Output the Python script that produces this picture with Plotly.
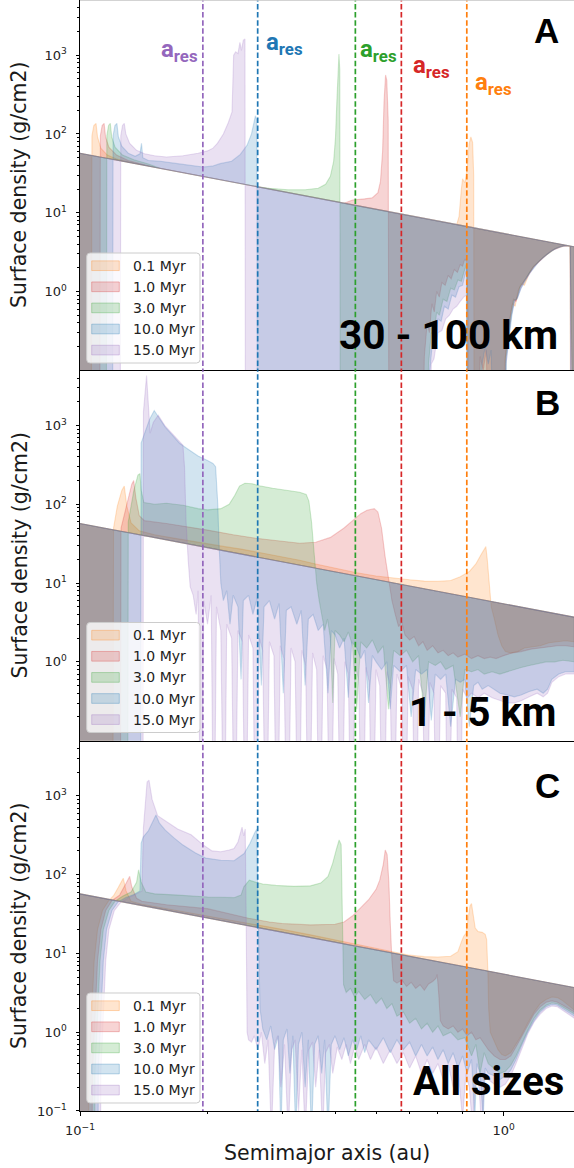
import plotly.graph_objects as go

# ---------------------------------------------------------------- data
ZERO = 1e-3  # empty bin (below the log axis)

SIGMA0_A = [0.1, 1.47]        # initial power-law profile, end points
SIGMA0_S = [57.0, 3.69]

TIMES = ["0.1 Myr", "1.0 Myr", "3.0 Myr", "10.0 Myr", "15.0 Myr"]
A_RES = [0.8187, 0.5736, 0.4467, 0.2627, 0.195]
PANEL_LETTERS = ["A", "B", "C"]
PANEL_SIZES = ["30 - 100 km", "1 - 5 km", "All sizes"]

X_TICKS = [0.1, 1.0]
X_TICK_TEXT = ["10<sup>\u22121</sup>", "10<sup>0</sup>"]
Y_TICKS = [0.1, 1, 10, 100, 1000]
Y_TICK_TEXT = ["10<sup>\u22121</sup>", "10<sup>0</sup>", "10<sup>1</sup>", "10<sup>2</sup>", "10<sup>3</sup>"]

Z = ZERO
# ---- panel A : 30 - 100 km
A_ORANGE = [(0.100, Z), (0.1063, Z), (0.1067, 95), (0.1078, 128), (0.1091, 136), (0.1100, 92), (0.1120, 66),
            (0.1160, 54), (0.1220, 48), (0.1300, 44.2), (0.140, 40.6), (0.775, 7.08), (0.785, 9.0), (0.795, 20),
            (0.800, 27), (0.810, 24), (0.820, 35), (0.829, 75), (0.837, 92), (0.845, 78), (0.850, 30), (0.852, Z),
            (0.990, Z), (1.005, 0.12), (1.02, 0.25), (1.035, 0.45), (1.05, 0.7), (1.065, 0.65), (1.08, 1.0),
            (1.10, 1.25), (1.12, 1.2), (1.15, 1.7), (1.18, 2.1), (1.21, 2.4), (1.24, 2.7), (1.27, 3.0), (1.30, 3.35),
            (1.33, 3.55), (1.36, 3.75), (1.40, 3.85), (1.435, 3.78), (1.44, Z), (1.47, Z)]
A_RED = [(0.100, Z), (0.1113, Z), (0.1117, 95), (0.1128, 128), (0.1140, 136), (0.1149, 92), (0.1170, 68),
         (0.1220, 54), (0.1300, 46), (0.1400, 41.5), (0.150, 37.8), (0.420, 13.2), (0.440, 14.5), (0.470, 15.0),
         (0.490, 15.5), (0.505, 18), (0.512, 25), (0.518, 60), (0.522, 250), (0.5264, 560), (0.530, 480),
         (0.534, 150), (0.5365, Z), (0.640, Z), (0.650, 0.15), (0.660, 0.4), (0.668, 0.3), (0.677, 0.7),
         (0.686, 0.55), (0.695, 1.0), (0.705, 0.85), (0.715, 1.3), (0.728, 1.2), (0.74, 1.6), (0.752, 1.45),
         (0.765, 1.9), (0.778, 1.75), (0.79, 2.2), (0.80, 2.1), (0.81, 2.6), (0.818, 2.4), (0.824, 0.5),
         (0.826, Z), (0.870, Z), (0.88, 0.15), (0.895, 0.1), (0.91, 0.18), (0.93, Z), (1.00, Z), (1.01, 0.15),
         (1.025, 0.3), (1.04, 0.55), (1.055, 0.8), (1.07, 0.75), (1.09, 1.1), (1.11, 1.3), (1.14, 1.6),
         (1.17, 2.0), (1.20, 2.3), (1.23, 2.6), (1.26, 2.9), (1.29, 3.2), (1.32, 3.45), (1.35, 3.6),
         (1.39, 3.8), (1.435, 3.75), (1.44, Z), (1.47, Z)]
A_GREEN = [(0.100, Z), (0.1153, Z), (0.1157, 95), (0.1168, 128), (0.1179, 136), (0.1188, 92), (0.1210, 68),
           (0.1260, 54), (0.1340, 47), (0.1450, 41.5), (0.155, 36.5), (0.260, 21.5), (0.280, 20.5),
           (0.310, 19.6), (0.340, 19.6), (0.365, 20.5), (0.380, 23), (0.390, 29), (0.397, 45), (0.401, 90),
           (0.404, 260), (0.4065, 700), (0.4086, 1030), (0.4105, 650), (0.4118, Z), (0.655, Z), (0.665, 0.12),
           (0.675, 0.3), (0.685, 0.28), (0.695, 0.55), (0.705, 0.5), (0.72, 0.8), (0.735, 0.75), (0.75, 1.1),
           (0.765, 1.05), (0.78, 1.4), (0.795, 1.35), (0.807, 1.8), (0.817, 2.2), (0.823, Z), (1.00, Z),
           (1.012, 0.14), (1.027, 0.28), (1.042, 0.5), (1.058, 0.78), (1.075, 0.8), (1.095, 1.15), (1.115, 1.35),
           (1.145, 1.65), (1.175, 2.05), (1.205, 2.35), (1.235, 2.65), (1.265, 2.95), (1.295, 3.25),
           (1.325, 3.5), (1.355, 3.65), (1.395, 3.82), (1.436, 3.76), (1.441, Z), (1.47, Z)]
A_BLUE = [(0.100, Z), (0.1193, Z), (0.1197, 95), (0.1209, 128), (0.1222, 136), (0.1232, 92), (0.1255, 70),
          (0.1300, 57), (0.1350, 52), (0.1385, 56), (0.1397, 76), (0.1407, 50), (0.1450, 46), (0.1546, 45),
          (0.170, 42), (0.185, 39.5), (0.195, 38), (0.205, 39), (0.214, 42), (0.228, 45), (0.239, 55),
          (0.248, 72), (0.254, 100), (0.2575, 140), (0.2594, 170), (0.2615, 150), (0.2625, Z), (0.660, Z),
          (0.670, 0.1), (0.68, 0.25), (0.69, 0.22), (0.70, 0.45), (0.712, 0.42), (0.725, 0.65), (0.74, 0.6),
          (0.755, 0.9), (0.77, 0.85), (0.785, 1.15), (0.80, 1.2), (0.81, 1.6), (0.82, 1.9), (0.8235, Z),
          (0.88, Z), (0.89, 0.12), (0.905, 0.2), (0.92, 0.12), (0.935, 0.18), (0.95, Z), (1.005, Z),
          (1.015, 0.13), (1.03, 0.27), (1.045, 0.48), (1.06, 0.75), (1.08, 0.85), (1.10, 1.1), (1.12, 1.3),
          (1.15, 1.7), (1.18, 2.0), (1.21, 2.4), (1.24, 2.7), (1.27, 3.0), (1.30, 3.3), (1.33, 3.55),
          (1.37, 3.75), (1.41, 3.85), (1.437, 3.76), (1.442, Z), (1.47, Z)]
A_PURPLE = [(0.100, Z), (0.1244, Z), (0.1248, 95), (0.1260, 128), (0.1272, 136), (0.1283, 100), (0.1310, 76),
            (0.1360, 62), (0.1420, 56), (0.150, 53), (0.160, 51), (0.175, 53), (0.190, 57), (0.200, 61),
            (0.206, 66), (0.211, 76), (0.218, 100), (0.224, 140), (0.2285, 190), (0.2295, 400), (0.2305, 1000),
            (0.233, 1100), (0.236, 1050), (0.2385, 1450), (0.2405, 1150), (0.243, 1550), (0.2452, 1600),
            (0.2458, Z), (0.665, Z), (0.675, 0.12), (0.685, 0.14), (0.70, 0.3), (0.715, 0.32), (0.73, 0.45),
            (0.745, 0.5), (0.76, 0.6), (0.775, 0.65), (0.79, 0.75), (0.805, 0.85), (0.817, 0.9), (0.822, Z),
            (1.00, Z), (1.013, 0.12), (1.028, 0.26), (1.043, 0.5), (1.06, 0.72), (1.078, 0.82), (1.098, 1.1),
            (1.12, 1.35), (1.15, 1.65), (1.18, 2.05), (1.21, 2.35), (1.24, 2.7), (1.27, 3.0), (1.30, 3.3),
            (1.33, 3.5), (1.37, 3.72), (1.41, 3.82), (1.437, 3.75), (1.442, Z), (1.47, Z)]

# ---- panel B : 1 - 5 km
B_ORANGE = [(0.100, Z), (0.1195, Z), (0.1200, 50), (0.1225, 95), (0.1255, 150), (0.1272, 170), (0.1290, 95),
            (0.1320, 58), (0.1380, 46), (0.150, 41), (0.165, 37.5), (0.180, 34.5), (0.200, 31.5), (0.220, 29),
            (0.240, 27), (0.260, 25), (0.280, 23), (0.300, 21.5), (0.330, 19.5), (0.360, 17.5), (0.400, 15.5),
            (0.450, 13.5), (0.500, 12.3), (0.550, 11.5), (0.600, 11.0), (0.650, 10.6), (0.700, 10.5),
            (0.750, 10.8), (0.790, 12), (0.830, 14), (0.860, 17.5), (0.885, 23), (0.900, 27), (0.908, 29),
            (0.915, 20), (0.925, 9), (0.935, 5), (0.951, 3.5), (0.970, 2.2), (0.99, 1.6), (1.01, 1.35),
            (1.04, 1.3), (1.08, 1.35), (1.12, 1.5), (1.17, 1.55), (1.22, 1.6), (1.28, 1.75), (1.34, 1.8),
            (1.40, 1.85), (1.47, 1.8)]
B_RED = [(0.100, Z), (0.1245, Z), (0.1250, 50), (0.1290, 100), (0.1325, 180), (0.1339, 200), (0.1355, 120),
         (0.1380, 72), (0.1420, 62), (0.160, 57), (0.180, 52), (0.200, 47), (0.230, 41), (0.260, 37),
         (0.300, 34), (0.330, 32), (0.360, 33), (0.390, 38), (0.420, 50), (0.440, 62), (0.460, 76),
         (0.476, 84), (0.495, 88), (0.505, 80), (0.515, 50), (0.525, 22), (0.535, 11), (0.545, 6),
         (0.555, 4.0), (0.565, 2.8), (0.575, 3.2), (0.585, 2.2), (0.60, 1.9), (0.615, 2.1), (0.63, 1.6),
         (0.645, 1.8), (0.66, 1.4), (0.68, 1.6), (0.70, 1.3), (0.72, 1.4), (0.74, 1.2), (0.76, 1.3),
         (0.78, 1.15), (0.81, 1.25), (0.84, 1.1), (0.87, 1.2), (0.90, 1.1), (0.93, 1.15), (0.96, 1.1),
         (1.00, 1.2), (1.05, 1.3), (1.10, 1.35), (1.16, 1.45), (1.22, 1.5), (1.28, 1.55), (1.34, 1.6),
         (1.40, 1.6), (1.47, 1.55)]
B_GREEN = [(0.100, Z), (0.1295, Z), (0.1300, 60), (0.1340, 150), (0.1370, 235), (0.1385, 245), (0.1395, 150),
           (0.1415, 105), (0.150, 100), (0.160, 103), (0.175, 97), (0.190, 88), (0.200, 85), (0.215, 88),
           (0.225, 100), (0.232, 130), (0.238, 170), (0.245, 185), (0.255, 182), (0.265, 172), (0.285, 160),
           (0.310, 150), (0.330, 142), (0.342, 133), (0.347, 110), (0.352, 60), (0.357, 25), (0.362, 10),
           (0.367, 6), (0.372, 4), (0.378, 2.5), (0.384, 3.5), (0.39, 2), (0.395, 0.3), (0.40, 2.5),
           (0.41, 2.2), (0.42, 1.8), (0.43, 2.4), (0.44, 1.6), (0.45, 0.25), (0.46, 1.8), (0.475, 1.5),
           (0.49, 1.9), (0.505, 1.3), (0.52, 1.6), (0.535, 0.25), (0.55, 1.4), (0.57, 1.2), (0.59, 1.4),
           (0.61, 1.0), (0.63, 1.2), (0.65, 0.2), (0.665, 1.0), (0.69, 0.9), (0.71, 1.0), (0.73, 0.8),
           (0.76, 0.9), (0.79, 0.2), (0.81, 0.8), (0.84, 0.75), (0.87, 0.8), (0.90, 0.7), (0.94, 0.75),
           (0.98, 0.7), (1.02, 0.75), (1.06, 0.8), (1.10, 0.85), (1.15, 0.9), (1.20, 0.95), (1.26, 1.0),
           (1.32, 1.0), (1.38, 1.05), (1.47, 1.0)]
B_BLUE = [(0.100, Z), (0.1390, Z), (0.1394, 600), (0.142, 800), (0.146, 1200), (0.1497, 1550), (0.153, 1300),
          (0.159, 950), (0.165, 760), (0.172, 590), (0.180, 500), (0.190, 410), (0.200, 360), (0.206, 330),
          (0.209, 300), (0.2115, 100), (0.213, 30), (0.215, 10), (0.218, 6), (0.222, 8), (0.226, 3), (0.230, 7),
          (0.236, 5), (0.240, 0.6), (0.243, 6), (0.25, 7), (0.256, 4), (0.262, 6.5), (0.268, 0.5), (0.272, 5),
          (0.28, 6), (0.288, 3.5), (0.295, 5.5), (0.302, 0.4), (0.307, 4.5), (0.315, 5), (0.325, 3),
          (0.333, 4.5), (0.34, 0.5), (0.346, 3.5), (0.355, 4), (0.365, 2.5), (0.375, 3), (0.385, 0.4),
          (0.392, 2.5), (0.40, 2.2), (0.41, 1.5), (0.42, 2.0), (0.43, 0.35), (0.438, 1.8), (0.45, 1.5),
          (0.46, 1.1), (0.47, 1.4), (0.48, 0.3), (0.49, 1.2), (0.50, 1.0), (0.515, 0.8), (0.53, 1.0),
          (0.54, 0.25), (0.55, 0.9), (0.57, 0.75), (0.59, 0.9), (0.605, 0.2), (0.62, 0.8), (0.64, 0.7),
          (0.66, 0.8), (0.675, 0.18), (0.69, 0.7), (0.71, 0.6), (0.73, 0.7), (0.75, 0.15), (0.77, 0.6),
          (0.79, 0.55), (0.81, 0.6), (0.83, 0.15), (0.85, 0.5), (0.87, 0.55), (0.89, 0.45), (0.92, 0.5),
          (0.95, 0.45), (0.98, 0.4), (1.02, 0.38), (1.06, 0.36), (1.10, 0.38), (1.15, 0.42), (1.20, 0.45),
          (1.24, 0.4), (1.27, 0.45), (1.30, 0.6), (1.35, 0.7), (1.40, 0.75), (1.47, 0.75)]
B_PURPLE = [(0.100, Z), (0.1408, Z), (0.1412, 1500), (0.1428, 3000), (0.1436, 4300), (0.1445, 2500),
            (0.1464, 800), (0.149, 1100), (0.1530, 1350), (0.159, 980), (0.165, 780), (0.172, 610),
            (0.175, 560), (0.1765, 300), (0.178, 60), (0.180, 20), (0.182, 9), (0.185, 7), (0.188, 4),
            (0.19, 8), (0.193, Z), (0.196, 6), (0.20, 3), (0.204, 7), (0.207, Z), (0.21, 5), (0.215, 2.5),
            (0.219, Z), (0.222, 3), (0.228, 2), (0.232, Z), (0.236, 2.5), (0.242, 1.8), (0.246, Z), (0.25, 2.2),
            (0.256, 1.5), (0.26, Z), (0.265, 2), (0.27, 1.4), (0.275, Z), (0.28, 1.8), (0.287, 1.2), (0.292, Z),
            (0.297, 1.6), (0.303, 1.1), (0.309, Z), (0.315, 1.5), (0.322, 1.0), (0.328, Z), (0.334, 1.4),
            (0.341, 0.9), (0.347, Z), (0.354, 1.3), (0.362, 0.8), (0.368, Z), (0.375, 1.2), (0.383, 0.8),
            (0.39, Z), (0.398, 1.1), (0.406, 0.7), (0.414, Z), (0.422, 1.0), (0.43, 0.7), (0.438, Z),
            (0.446, 0.9), (0.455, 0.6), (0.464, Z), (0.473, 0.85), (0.482, 0.55), (0.49, Z), (0.50, 0.8),
            (0.51, 0.5), (0.52, Z), (0.53, 0.75), (0.54, 0.5), (0.55, Z), (0.56, 0.7), (0.575, 0.45),
            (0.585, Z), (0.595, 0.65), (0.61, 0.45), (0.62, Z), (0.63, 0.6), (0.645, 0.4), (0.655, Z),
            (0.67, 0.55), (0.685, 0.4), (0.695, Z), (0.71, 0.5), (0.73, 0.4), (0.74, Z), (0.755, 0.45),
            (0.775, 0.35), (0.785, Z), (0.80, 0.45), (0.82, 0.35), (0.84, 0.4), (0.87, 0.35), (0.90, 0.4),
            (0.94, 0.35), (0.98, 0.32), (1.02, 0.3), (1.06, 0.3), (1.10, 0.32), (1.15, 0.36), (1.20, 0.4),
            (1.24, 0.36), (1.27, 0.4), (1.30, 0.55), (1.35, 0.65), (1.40, 0.7), (1.47, 0.7)]

# ---- panel C : all sizes
C_ORANGE = [(0.100, Z), (0.1045, Z), (0.1050, 0.3), (0.1065, 2.0), (0.1080, 8), (0.1100, 20), (0.1130, 35),
            (0.1170, 47), (0.1200, 54), (0.1230, 68), (0.1265, 90), (0.1285, 62), (0.1320, 46), (0.140, 42),
            (0.160, 37), (0.200, 29.8), (0.250, 24.2), (0.300, 20.2), (0.350, 17.2), (0.400, 14.8),
            (0.450, 12.9), (0.500, 11.5), (0.550, 10.3), (0.600, 9.5), (0.650, 9.1), (0.700, 9.0), (0.750, 9.2),
            (0.780, 10.5), (0.795, 14), (0.805, 16.5), (0.815, 18), (0.825, 28), (0.833, 40), (0.840, 43),
            (0.848, 32), (0.857, 21), (0.870, 19), (0.890, 18.5), (0.905, 17.5), (0.912, 15), (0.918, 6),
            (0.922, 2.0), (0.93, 1.0), (0.95, 0.75), (0.97, 0.6), (0.99, 0.52), (1.01, 0.5), (1.04, 0.55),
            (1.07, 0.7), (1.10, 0.9), (1.14, 1.3), (1.18, 1.8), (1.22, 2.3), (1.26, 2.6), (1.30, 2.8),
            (1.34, 2.75), (1.38, 2.5), (1.42, 2.2), (1.47, 1.9)]
C_RED = [(0.100, Z), (0.1065, Z), (0.1070, 0.3), (0.1085, 2.0), (0.1100, 8), (0.1120, 20), (0.1150, 35),
         (0.1190, 47), (0.1240, 55), (0.1280, 75), (0.1310, 95), (0.1325, 70), (0.1360, 50), (0.140, 46),
         (0.160, 41.5), (0.200, 37), (0.230, 31), (0.250, 28), (0.280, 25), (0.300, 24), (0.350, 23),
         (0.400, 23.5), (0.420, 25), (0.440, 30), (0.460, 38), (0.480, 48), (0.500, 65), (0.510, 85),
         (0.520, 135), (0.5255, 205), (0.531, 180), (0.536, 80), (0.540, 25), (0.545, 8), (0.550, 4.5),
         (0.560, 4.2), (0.575, 4.6), (0.590, 3.8), (0.605, 4.3), (0.62, 3.6), (0.635, 4.0), (0.65, 3.4),
         (0.665, 4.1), (0.68, 4.4), (0.692, 4.8), (0.697, 5.4), (0.703, 3.0), (0.709, 1.4), (0.72, 1.2),
         (0.74, 1.1), (0.76, 1.2), (0.78, 1.0), (0.80, 1.1), (0.82, 0.9), (0.84, 1.0), (0.86, 0.8),
         (0.88, 0.85), (0.90, 0.7), (0.92, 0.6), (0.95, 0.5), (0.98, 0.45), (1.01, 0.45), (1.04, 0.5),
         (1.07, 0.65), (1.10, 0.85), (1.14, 1.2), (1.18, 1.7), (1.22, 2.1), (1.26, 2.4), (1.30, 2.5),
         (1.34, 2.4), (1.38, 2.2), (1.42, 2.0), (1.47, 1.8)]
C_GREEN = [(0.100, Z), (0.1080, Z), (0.1085, 0.3), (0.1100, 2.0), (0.1115, 8), (0.1135, 20), (0.1170, 35),
           (0.1210, 46), (0.1260, 53), (0.1320, 60), (0.1360, 80), (0.1375, 115), (0.1395, 80), (0.1430, 60),
           (0.150, 57), (0.170, 55), (0.200, 52), (0.231, 51), (0.240, 55), (0.2437, 70), (0.251, 85),
           (0.260, 80), (0.270, 76), (0.290, 73), (0.320, 71), (0.350, 72), (0.370, 78), (0.385, 95),
           (0.395, 140), (0.403, 210), (0.409, 275), (0.4135, 240), (0.4150, 60), (0.4165, 12), (0.419, 4),
           (0.425, 3.2), (0.435, 3.6), (0.445, 2.8), (0.455, 3.3), (0.47, 2.6), (0.485, 3.0), (0.50, 2.3),
           (0.515, 2.7), (0.53, 2.0), (0.545, 2.3), (0.56, 1.6), (0.58, 1.8), (0.60, 1.3), (0.62, 1.5),
           (0.64, 1.1), (0.66, 1.3), (0.68, 1.0), (0.70, 1.2), (0.72, 0.9), (0.75, 1.0), (0.78, 0.8),
           (0.81, 0.85), (0.84, 0.5), (0.86, 0.7), (0.88, 0.3), (0.90, 0.55), (0.92, 0.4), (0.95, 0.35),
           (0.98, 0.3), (1.01, 0.32), (1.04, 0.38), (1.07, 0.5), (1.10, 0.7), (1.14, 1.05), (1.18, 1.5),
           (1.22, 1.9), (1.26, 2.2), (1.30, 2.35), (1.34, 2.3), (1.38, 2.1), (1.42, 1.9), (1.47, 1.7)]
C_BLUE = [(0.100, Z), (0.1100, Z), (0.1105, 0.3), (0.1120, 2.0), (0.1135, 8), (0.1155, 20), (0.1190, 35),
          (0.1230, 45), (0.1280, 51), (0.1340, 56), (0.1385, 62), (0.1394, 250), (0.141, 300), (0.145, 360),
          (0.149, 480), (0.1511, 570), (0.154, 450), (0.159, 367), (0.167, 290), (0.175, 237), (0.187, 190),
          (0.198, 162), (0.215, 152), (0.231, 150), (0.244, 185), (0.252, 250), (0.2585, 340), (0.2615, 380),
          (0.2628, 60), (0.264, 10), (0.266, 2.0), (0.270, 1.1), (0.276, 0.8), (0.282, 1.2), (0.288, 0.6),
          (0.294, 0.9), (0.298, 0.05), (0.302, 0.8), (0.308, 1.1), (0.313, 0.3), (0.318, 0.9), (0.323, 0.05),
          (0.328, 0.7), (0.334, 1.0), (0.34, 0.2), (0.346, 0.8), (0.352, 0.05), (0.358, 0.7), (0.365, 0.9),
          (0.372, 0.3), (0.378, 0.8), (0.385, 0.05), (0.392, 0.7), (0.40, 0.9), (0.41, 0.6), (0.42, 0.85),
          (0.43, 0.5), (0.44, 0.8), (0.45, 0.6), (0.46, 0.9), (0.47, 0.55), (0.48, 0.8), (0.50, 0.6),
          (0.52, 0.85), (0.54, 0.55), (0.56, 0.8), (0.58, 0.6), (0.60, 0.75), (0.62, 0.5), (0.64, 0.7),
          (0.66, 0.5), (0.68, 0.65), (0.70, 0.45), (0.72, 0.6), (0.74, 0.4), (0.76, 0.55), (0.78, 0.35),
          (0.80, 0.5), (0.82, 0.3), (0.84, 0.45), (0.855, 0.08), (0.865, 0.4), (0.88, 0.3), (0.895, 0.08),
          (0.905, 0.35), (0.92, 0.3), (0.95, 0.28), (0.98, 0.25), (1.01, 0.28), (1.04, 0.33), (1.07, 0.45),
          (1.10, 0.65), (1.14, 1.0), (1.18, 1.4), (1.22, 1.8), (1.26, 2.1), (1.30, 2.25), (1.34, 2.2),
          (1.38, 2.0), (1.42, 1.8), (1.47, 1.6)]
C_PURPLE = [(0.100, Z), (0.1115, Z), (0.1120, 0.3), (0.1135, 2.0), (0.1150, 8), (0.1170, 20), (0.1205, 35),
            (0.1250, 45), (0.1300, 51), (0.1350, 56), (0.1400, 62), (0.1412, 400), (0.1428, 1000),
            (0.1440, 1500), (0.1455, 1580), (0.1480, 900), (0.1525, 560), (0.160, 470), (0.170, 380),
            (0.183, 320), (0.195, 240), (0.205, 200), (0.215, 195), (0.225, 205), (0.231, 215), (0.236, 260),
            (0.239, 330), (0.2413, 400), (0.2435, 310), (0.2455, 380), (0.2466, 40), (0.2480, 1.0),
            (0.250, 0.8), (0.254, 0.75), (0.258, 0.9), (0.263, 0.6), (0.268, 1.0), (0.273, 0.4), (0.278, 0.8),
            (0.283, 0.05), (0.288, 0.7), (0.293, 0.9), (0.298, 0.2), (0.304, 0.7), (0.31, 0.05), (0.316, 0.6),
            (0.322, 0.8), (0.328, 0.1), (0.334, 0.6), (0.34, 0.05), (0.347, 0.6), (0.354, 0.75), (0.36, 0.2),
            (0.367, 0.6), (0.374, 0.05), (0.38, 0.55), (0.388, 0.7), (0.395, 0.3), (0.405, 0.65),
            (0.415, 0.45), (0.425, 0.7), (0.435, 0.4), (0.445, 0.65), (0.455, 0.45), (0.47, 0.7),
            (0.485, 0.45), (0.50, 0.65), (0.52, 0.4), (0.54, 0.6), (0.56, 0.4), (0.58, 0.55), (0.60, 0.35),
            (0.62, 0.5), (0.64, 0.3), (0.66, 0.45), (0.68, 0.3), (0.70, 0.4), (0.72, 0.25), (0.74, 0.4),
            (0.76, 0.2), (0.78, 0.35), (0.80, 0.08), (0.815, 0.3), (0.83, 0.2), (0.845, 0.06), (0.86, 0.3),
            (0.875, 0.2), (0.89, 0.05), (0.90, 0.3), (0.92, 0.25), (0.95, 0.22), (0.98, 0.2), (1.01, 0.22),
            (1.04, 0.28), (1.07, 0.4), (1.10, 0.6), (1.14, 0.95), (1.18, 1.35), (1.22, 1.7), (1.26, 2.0),
            (1.30, 2.15), (1.34, 2.1), (1.38, 1.9), (1.42, 1.7), (1.47, 1.5)]

PANELS = [
    [A_ORANGE, A_RED, A_GREEN, A_BLUE, A_PURPLE],
    [B_ORANGE, B_RED, B_GREEN, B_BLUE, B_PURPLE],
    [C_ORANGE, C_RED, C_GREEN, C_BLUE, C_PURPLE],
]

# ---------------------------------------------------------------- style
RGB = [(255, 127, 14), (214, 39, 40), (44, 160, 44), (31, 119, 180), (148, 103, 189)]
HEX = ["#ff7f0e", "#d62728", "#2ca02c", "#1f77b4", "#9467bd"]
W, H = 574, 1168
ML, MB, MT = 80, 57, 0
PW, PH = W - ML, H - MB - MT
DOMAINS = [[2 / 3, 1.0], [1 / 3, 2 / 3], [0.0, 1 / 3]]
FONT = "DejaVu Sans"


def rgba(c, a):
    return "rgba(%d,%d,%d,%.3f)" % (c[0], c[1], c[2], a)


def PX(px):
    return (px - ML) / PW


def PY(py):
    return (PH + MT - py) / PH


fig = go.Figure()

for p, series in enumerate(PANELS):
    xa = "x" if p == 0 else "x%d" % (p + 1)
    ya = "y" if p == 0 else "y%d" % (p + 1)
    for k, prof in enumerate(series):
        xs = [a for a, s in prof] + SIGMA0_A[::-1]
        ys = [s for a, s in prof] + SIGMA0_S[::-1]
        fig.add_trace(go.Scatter(
            x=xs, y=ys, mode="lines", fill="toself",
            fillcolor=rgba(RGB[k], 0.2), line=dict(color=rgba(RGB[k], 0.22), width=1.1),
            xaxis=xa, yaxis=ya, hoverinfo="skip", showlegend=False, name=TIMES[k]))
    for k, a in enumerate(A_RES):
        fig.add_trace(go.Scatter(
            x=[a, a], y=[1e-3, 1e5], mode="lines",
            line=dict(color=HEX[k], width=1.7, dash="5.5px,2.6px"),
            xaxis=xa, yaxis=ya, hoverinfo="skip", showlegend=False))

minor_y = [d * 10 ** e for e in range(-1, 4) for d in range(2, 10) if d * 10 ** e < 5000]
minor_x = [d / 10 for d in range(2, 10)]

layout = dict(
    width=W, height=H, margin=dict(l=ML, r=0, t=MT, b=MB),
    paper_bgcolor="white", plot_bgcolor="white", showlegend=False,
    font=dict(family=FONT, size=13, color="#222222"),
)
for p in range(3):
    sfx = "" if p == 0 else str(p + 1)
    last = p == 2
    layout["xaxis" + sfx] = dict(
        domain=[0, 1], anchor="y" + sfx, type="log", range=[-1, 0.1662],
        showline=True, linecolor="black", linewidth=1, showgrid=False, zeroline=False,
        ticks="outside" if last else "", ticklen=3.5, tickwidth=0.9, tickcolor="black",
        tickmode="array", tickvals=X_TICKS, ticktext=X_TICK_TEXT, showticklabels=last,
        tickfont=dict(family=FONT, size=13, color="#222222"), ticklabelstandoff=4,
        minor=dict(tickmode="array", tickvals=minor_x, ticks="outside" if last else "",
                   ticklen=2, tickwidth=0.7, tickcolor="black"),
    )
    tv = Y_TICKS if last else Y_TICKS[1:]
    tt = Y_TICK_TEXT if last else Y_TICK_TEXT[1:]
    layout["yaxis" + sfx] = dict(
        domain=DOMAINS[p], anchor="x" + sfx, type="log", range=[-1, 3.7],
        showline=True, linecolor="black", linewidth=1, showgrid=False, zeroline=False,
        ticks="outside", ticklen=3.5, tickwidth=0.9, tickcolor="black",
        tickmode="array", tickvals=tv, ticktext=tt,
        tickfont=dict(family=FONT, size=13, color="#222222"), ticklabelstandoff=6,
        minor=dict(tickmode="array", tickvals=minor_y, ticks="outside",
                   ticklen=2, tickwidth=0.7, tickcolor="black"),
    )
fig.update_layout(**layout)

shapes = []
annotations = []


def ann(text, px, py, size, color, family=FONT, xanchor="left", yanchor="middle", angle=0):
    annotations.append(dict(text=text, x=PX(px), y=PY(py), xref="paper", yref="paper",
                            showarrow=False, xanchor=xanchor, yanchor=yanchor, textangle=angle,
                            font=dict(family=family, size=size, color=color)))


def rrect(x0, y0, x1, y1, r):
    pts = ("M %f,%f L %f,%f Q %f,%f %f,%f L %f,%f Q %f,%f %f,%f L %f,%f Q %f,%f %f,%f L %f,%f Q %f,%f %f,%f Z" % (
        PX(x0 + r), PY(y0), PX(x1 - r), PY(y0), PX(x1), PY(y0), PX(x1), PY(y0 + r),
        PX(x1), PY(y1 - r), PX(x1), PY(y1), PX(x1 - r), PY(y1),
        PX(x0 + r), PY(y1), PX(x0), PY(y1), PX(x0), PY(y1 - r),
        PX(x0), PY(y0 + r), PX(x0), PY(y0), PX(x0 + r), PY(y0)))
    return pts


# top border line
shapes.append(dict(type="line", xref="paper", yref="paper", x0=0, x1=1, y0=PY(0.3), y1=PY(0.3),
                   line=dict(color="#c8c8c8", width=1), layer="above"))

LEGEND_TOPS = [253.0, 622.5, 993.0]
for p in range(3):
    top = LEGEND_TOPS[p]
    shapes.append(dict(type="path", path=rrect(86.7, top, 200.0, top + 110.0, 3.5), xref="paper", yref="paper",
                       fillcolor="rgba(255,255,255,0.8)", line=dict(color="#cccccc", width=1), layer="above"))
    for k in range(5):
        cy = top + 12.7 + k * 21.1
        shapes.append(dict(type="rect", xref="paper", yref="paper", x0=PX(91.7), x1=PX(119.3),
                           y0=PY(cy + 4.85), y1=PY(cy - 4.85), fillcolor=rgba(RGB[k], 0.2),
                           line=dict(color=rgba(RGB[k], 0.3), width=1), layer="above"))
        ann(TIMES[k], 130.5, cy, 14, "#222222")

# a_res labels (panel A)
ARES_POS = [(473.0, 83.5), (410.5, 66.5), (358.0, 50.5), (264.0, 43.0), (158.7, 50.0)]
for k, (x, y) in enumerate(ARES_POS):
    ann("<b>a<sub>res</sub></b>", x, y, 24, HEX[k], family="Roboto")

PANEL_LETTER_POS = [(546.0, 30.5), (547.0, 402.5), (547.5, 785.0)]
PANEL_SIZE_POS = [(560.0, 335.0), (558.6, 712.5), (566.0, 1081.0)]
PANEL_SIZE_FONT = [40.5, 40, 40]
for p in range(3):
    ann("<b>%s</b>" % PANEL_LETTERS[p], PANEL_LETTER_POS[p][0], PANEL_LETTER_POS[p][1], 35, "black",
        family="Liberation Sans", xanchor="center")
    ann("<b>%s</b>" % PANEL_SIZES[p], PANEL_SIZE_POS[p][0], PANEL_SIZE_POS[p][1], PANEL_SIZE_FONT[p], "black",
        family="Roboto", xanchor="right")
    ann("Surface density (g/cm2)", 19.0, [185.0, 555.5, 926.0][p], 20.5, "#1a1a1a",
        xanchor="center", angle=-90)

ann("Semimajor axis (au)", 327.0, 1153.0, 20.5, "#1a1a1a", xanchor="center")

fig.update_layout(shapes=shapes, annotations=annotations)
fig.write_html("out.html", config={"displayModeBar": False})

# remove the browser's default page margin so the figure sits at the window origin
with open("out.html", "r", encoding="utf-8") as fh:
    html = fh.read()
html = html.replace("<head>", "<head><style>html,body{margin:0;padding:0;overflow:hidden;}</style>", 1)
with open("out.html", "w", encoding="utf-8") as fh:
    fh.write(html)
